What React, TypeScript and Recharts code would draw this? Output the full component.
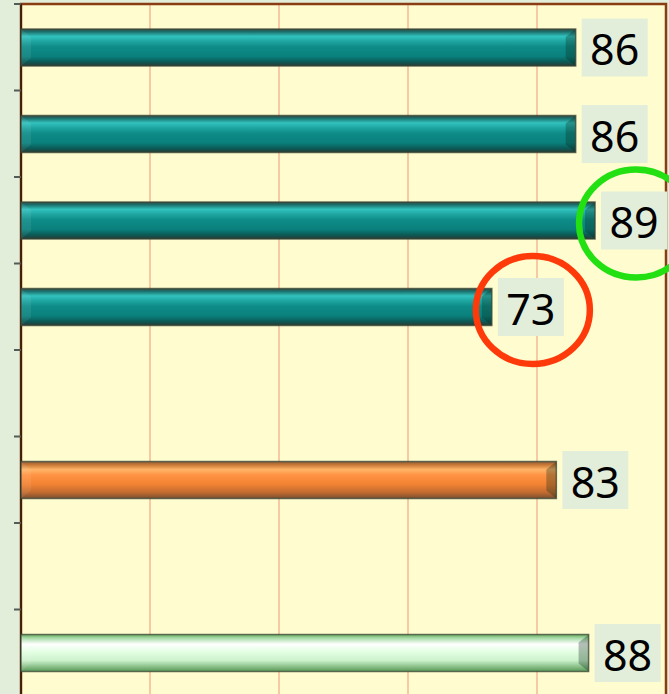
import { BarChart, Bar, XAxis, YAxis, CartesianGrid, Cell, LabelList, ReferenceArea } from 'recharts';

const categories = ['A', 'B', 'C', 'D', 'E', 'F', 'G', 'H'];
const values = [86, 86, 89, 73, null, 83, null, 88];
const barKinds = ['teal', 'teal', 'teal', 'teal', 'teal', 'orange', 'teal', 'mint'];
const circled = ['C', 'D'];
const circleColors = { C: '#22e012', D: '#ff3a0a' };
const xTicks = [0, 20, 40, 60, 80, 100];

const data = categories.map((name, i) => ({ name, value: values[i], kind: barKinds[i] }));

const CHART_W = 669;
const CHART_H = 696;
const MARGIN = { top: 4, right: 3, left: 0, bottom: 0 };
const BAND = (CHART_H - MARGIN.top - MARGIN.bottom) / categories.length;

const gradients = {
  teal: [
    ['0%', '#3a4a40'],
    ['7%', '#1a6e6a'],
    ['20%', '#32c2be'],
    ['32%', '#20a8a4'],
    ['48%', '#0e8c88'],
    ['74%', '#0a807c'],
    ['88%', '#0a5c58'],
    ['100%', '#2a3c34'],
  ],
  orange: [
    ['0%', '#8a6040'],
    ['8%', '#c47434'],
    ['22%', '#ffb466'],
    ['36%', '#ff9444'],
    ['62%', '#f28232'],
    ['84%', '#c06a30'],
    ['100%', '#7a5030'],
  ],
  mint: [
    ['0%', '#6aaa60'],
    ['10%', '#a8dca8'],
    ['26%', '#ffffff'],
    ['46%', '#e4ffe4'],
    ['70%', '#ccf2cc'],
    ['88%', '#86bc84'],
    ['100%', '#5a9a58'],
  ],
};

const BevelBar = (props) => {
  const { x, y, width, height, fill } = props;
  if (!width || width <= 0) return null;
  const b = Math.min(10, width / 2);
  return (
    <g>
      <rect x={x} y={y} width={width} height={height} fill={fill} />
      <polygon
        points={`${x},${y} ${x + b},${y + 8} ${x + b},${y + height - 8} ${x},${y + height}`}
        fill="#ffffff"
        fillOpacity={0.07}
      />
      <polygon
        points={`${x + width},${y} ${x + width - b},${y + 8} ${x + width - b},${y + height - 8} ${x + width},${y + height}`}
        fill="#0a2818"
        fillOpacity={0.3}
      />
      <rect x={x} y={y} width={width} height={height} fill="none" stroke="#3a4636" strokeOpacity={0.75} strokeWidth={1.5} />
    </g>
  );
};

const ValueLabel = (props) => {
  const { x, y, width, height, value, index } = props;
  if (value == null) return null;
  const name = categories[index];
  const bx = x + width + 6;
  const cy = y + height / 2;
  const bw = 66;
  const bh = 58;
  return (
    <g>
      <rect x={bx} y={cy - bh / 2} width={bw} height={bh} fill="#e2eeda" />
      <text
        x={bx + bw / 2}
        y={cy + 1}
        textAnchor="middle"
        dominantBaseline="central"
        fontSize={43}
        fontFamily="'Noto Sans', sans-serif"
        fill="#000"
      >
        {value}
      </text>
      {circled.includes(name) && (
        <ellipse
          cx={bx + bw / 2 + 2}
          cy={cy + 3}
          rx={57}
          ry={54}
          fill="none"
          stroke={circleColors[name]}
          strokeWidth={6.5}
        />
      )}
    </g>
  );
};

// tick marks sit on the row boundaries, not the row centres
const BoundaryTick = (props) => {
  const { x, y } = props;
  const ty = y - BAND / 2;
  return <line x1={x} y1={ty} x2={x + 7} y2={ty} stroke="#555a55" strokeWidth={2} />;
};

export default function App() {
  return (
    <div style={{ width: CHART_W, height: 694, overflow: 'hidden', background: '#e2eeda', position: 'absolute', left: 0, top: 0 }}>
      <style>{'body{margin:0}'}</style>
      <BarChart
        width={CHART_W}
        height={CHART_H}
        data={data}
        layout="vertical"
        margin={MARGIN}
        barCategoryGap={0}
      >
        <defs>
          {Object.entries(gradients).map(([k, stops]) => (
            <linearGradient key={k} id={`g-${k}`} x1="0" y1="0" x2="0" y2="1">
              {stops.map(([o, c]) => (
                <stop key={o} offset={o} stopColor={c} />
              ))}
            </linearGradient>
          ))}
        </defs>
        <CartesianGrid horizontal={false} stroke="#f6b896" strokeWidth={1.5} fill="#fffdcf" fillOpacity={1} />
        <XAxis type="number" domain={[0, 100]} ticks={xTicks} hide />
        <YAxis
          type="category"
          dataKey="name"
          width={21}
          tickSize={7}
          tickMargin={0}
          tickLine={false}
          axisLine={false}
          tick={BoundaryTick}
          interval={0}
        />
        <ReferenceArea x1={0} x2={100} fill="none" stroke="#8a3c12" strokeWidth={2.5} ifOverflow="visible" />
        <Bar dataKey="value" barSize={37} shape={BevelBar} isAnimationActive={false}>
          {data.map((d, i) => (
            <Cell key={`cell-${i}`} fill={`url(#g-${d.kind})`} />
          ))}
          <LabelList dataKey="value" content={ValueLabel} />
        </Bar>
        <ReferenceArea x1={0} x2={0.01} fill="#2a1a08" stroke="#2a1a08" strokeWidth={1} ifOverflow="visible" />
      </BarChart>
    </div>
  );
}
